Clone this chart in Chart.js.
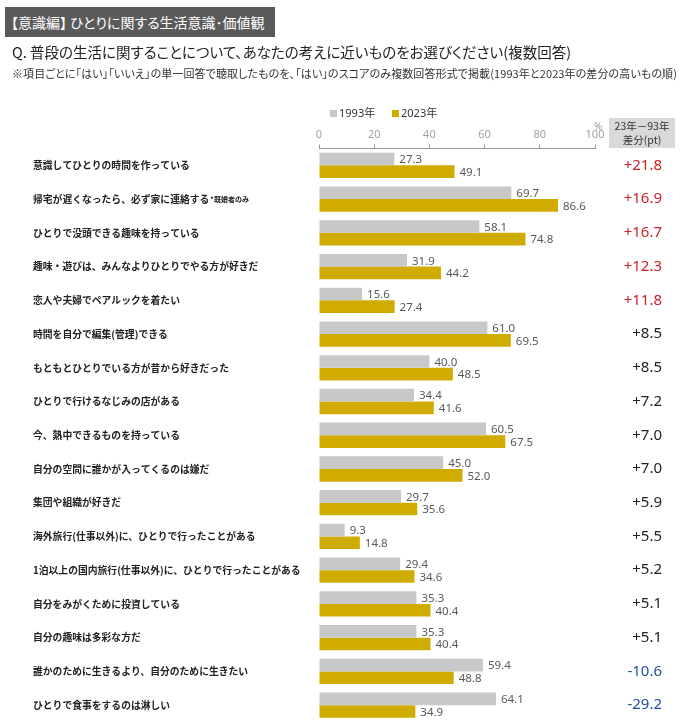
<!DOCTYPE html>
<html>
<head>
<meta charset="utf-8">
<script src="https://cdn.jsdelivr.net/npm/chart.js@4.4.1/dist/chart.umd.min.js"></script>
<style>
  body { margin: 0; background: #fff; font-family: "Noto Sans CJK JP", sans-serif; }
  #wrap { position: relative; width: 686px; height: 722px; overflow: hidden; }
  #mycanvas { position: absolute; left: 0; top: 0; }
  .jp { font-feature-settings: "palt"; white-space: nowrap; }
  .title { position: absolute; left: 5px; top: 7px; width: 270px; height: 30px; background: #5a5a5a;
           color: #fff; font-size: 14px; line-height: 30px; padding-left: 6px; box-sizing: border-box; }
  .q { position: absolute; left: 12px; top: 41px; font-size: 14.5px; color: #222; }
  .note { position: absolute; left: 12px; top: 65px; font-size: 11px; color: #333; letter-spacing: 0.1px; }
  .legend { position: absolute; top: 104px; font-size: 11px; color: #333; font-family: "Noto Sans", "Noto Sans CJK JP", sans-serif; }
  .legend i { display: inline-block; width: 7px; height: 7px; margin-right: 2px; vertical-align: 0px; }
  .pct { position: absolute; left: 594px; top: 119px; font-size: 10px; color: #999; font-family: "Noto Sans", sans-serif; }
  .head { position: absolute; left: 609px; top: 118px; width: 66px; height: 30px; background: #d9d9d9;
          color: #333; font-size: 10.5px; line-height: 14px; text-align: center; padding-top: 1px; box-sizing: border-box; }
</style>
</head>
<body>
<div id="wrap">
  <canvas id="mycanvas" width="686" height="722"></canvas>
  <div class="title jp">【意識編】 ひとりに関する生活意識･価値観</div>
  <div class="q jp">Q. 普段の生活に関することについて、あなたの考えに近いものをお選びください(複数回答)</div>
  <div class="note jp">※項目ごとに「はい」「いいえ」の単一回答で聴取したものを、「はい」のスコアのみ複数回答形式で掲載(1993年と2023年の差分の高いもの順)</div>
  <div class="legend" style="left:330px"><i style="background:#c8c8c8"></i>1993年</div>
  <div class="legend" style="left:392px"><i style="background:#d1ac00"></i>2023年</div>
  <div class="pct">%</div>
  <div class="head">23年－93年<br>差分(pt)</div>
</div>
<script>
var labels = [
  "意識してひとりの時間を作っている",
  "帰宅が遅くなったら、必ず家に連絡する",
  "ひとりで没頭できる趣味を持っている",
  "趣味・遊びは、みんなよりひとりでやる方が好きだ",
  "恋人や夫婦でペアルックを着たい",
  "時間を自分で編集(管理)できる",
  "もともとひとりでいる方が昔から好きだった",
  "ひとりで行けるなじみの店がある",
  "今、熱中できるものを持っている",
  "自分の空間に誰かが入ってくるのは嫌だ",
  "集団や組織が好きだ",
  "海外旅行(仕事以外)に、ひとりで行ったことがある",
  "1泊以上の国内旅行(仕事以外)に、ひとりで行ったことがある",
  "自分をみがくために投資している",
  "自分の趣味は多彩な方だ",
  "誰かのために生きるより、自分のために生きたい",
  "ひとりで食事をするのは淋しい"
];
var notes = ["", "*既婚者のみ", "", "", "", "", "", "", "", "", "", "", "", "", "", "", ""];
var y1993 = [27.3, 69.7, 58.1, 31.9, 15.6, 61.0, 40.0, 34.4, 60.5, 45.0, 29.7, 9.3, 29.4, 35.3, 35.3, 59.4, 64.1];
var y2023 = [49.1, 86.6, 74.8, 44.2, 27.4, 69.5, 48.5, 41.6, 67.5, 52.0, 35.6, 14.8, 34.6, 40.4, 40.4, 48.8, 34.9];
var diff = [21.8, 16.9, 16.7, 12.3, 11.8, 8.5, 8.5, 7.2, 7.0, 7.0, 5.9, 5.5, 5.2, 5.1, 5.1, -10.6, -29.2];
var xTicks = [0, 20, 40, 60, 80, 100];

var numFont = "'Noto Sans', 'Open Sans', sans-serif";

// labels, bar values and the diff column
var textPlugin = {
  id: "texts",
  afterDatasetsDraw: function(chart) {
    var ctx = chart.ctx;
    var ys = chart.scales.y;
    ctx.save();
    ctx.textBaseline = "middle";
    for (var i = 0; i < labels.length; i++) {
      var py = ys.getPixelForValue(i);
      ctx.textAlign = "left";
      ctx.fillStyle = "#222";
      ctx.font = "bold 9.8px 'Noto Sans CJK JP'";
      ctx.fillText(labels[i], 33, py);
      if (notes[i]) {
        var w = ctx.measureText(labels[i]).width;
        ctx.font = "bold 7px 'Noto Sans CJK JP'";
        ctx.fillText(notes[i], 33 + w + 1, py);
      }
      var d = diff[i];
      ctx.textAlign = "right";
      ctx.font = "15px " + numFont;
      ctx.fillStyle = d > 10 ? "#d0202a" : (d < 0 ? "#1f4e9c" : "#222");
      ctx.fillText((d > 0 ? "+" : "") + d.toFixed(1), 662, py);
    }
    ctx.font = "11.5px " + numFont;
    ctx.fillStyle = "#595959";
    ctx.textAlign = "left";
    chart.data.datasets.forEach(function(ds, di) {
      chart.getDatasetMeta(di).data.forEach(function(bar, i) {
        ctx.fillText(ds.data[i].toFixed(1), bar.x + 5, bar.y + 1);
      });
    });
    ctx.restore();
  }
};

var chartdata = {
  labels: labels,
  datasets: [
    {
      label: "1993年",
      backgroundColor: "#c8c8c8",
      data: y1993,
      categoryPercentage: 0.75,
      barPercentage: 1
    },
    {
      label: "2023年",
      backgroundColor: "#d1ac00",
      data: y2023,
      categoryPercentage: 0.75,
      barPercentage: 1
    }
  ]
};

var ctx = document.getElementById("mycanvas");
var chart = new Chart(ctx, {
  type: "bar",
  data: chartdata,
  options: {
    indexAxis: "y",
    responsive: false,
    animation: false,
    layout: { padding: { left: 319, right: 91, top: 118.5, bottom: 0 } },
    plugins: { legend: { display: false }, tooltip: { enabled: false } },
    scales: {
      x: {
        position: "top",
        min: 0,
        max: 100,
        afterBuildTicks: function(scale) {
          scale.ticks = xTicks.map(function(v) { return { value: v }; });
        },
        afterFit: function(scale) { scale.height = 30; },
        ticks: { color: "#a0a0a0", font: { size: 11, family: numFont }, padding: 3, maxRotation: 0 },
        grid: { drawOnChartArea: false, tickLength: 4, color: "#999" },
        border: { color: "#999", width: 1 }
      },
      y: { display: false }
    }
  },
  plugins: [textPlugin]
});
</script>
</body>
</html>
